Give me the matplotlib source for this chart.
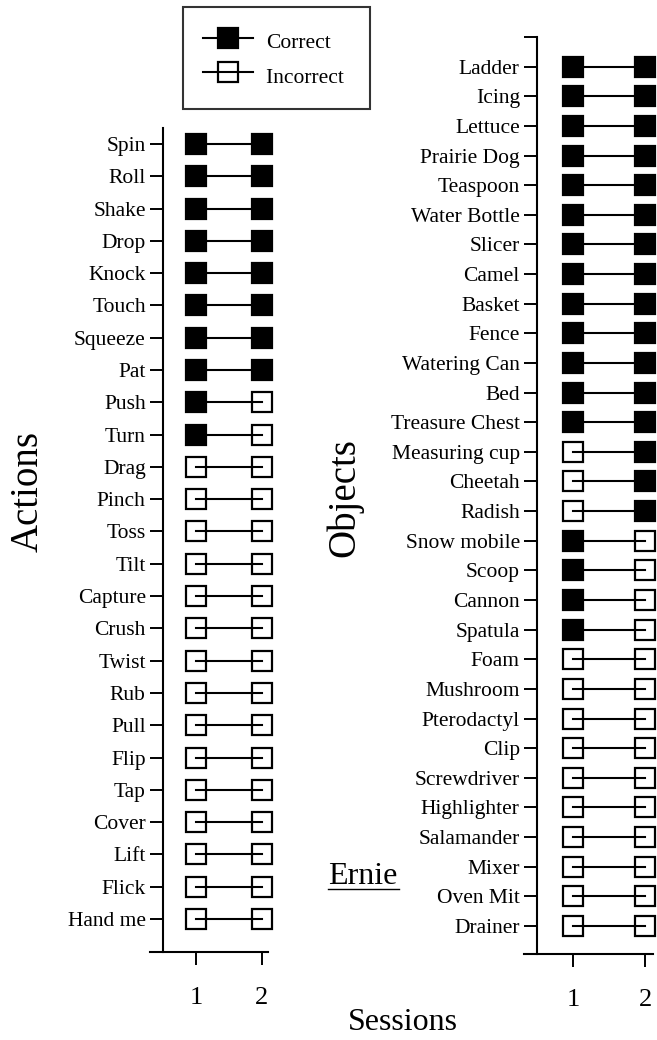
import numpy as np
import matplotlib
matplotlib.use("Agg")
import matplotlib.pyplot as plt
from matplotlib.lines import Line2D

plt.rcParams['font.family'] = ['Liberation Serif', 'DejaVu Serif']

# data: 1 = correct, 0 = incorrect (session 1, session 2)
actions = ["Spin", "Roll", "Shake", "Drop", "Knock", "Touch", "Squeeze", "Pat",
           "Push", "Turn", "Drag", "Pinch", "Toss", "Tilt", "Capture", "Crush",
           "Twist", "Rub", "Pull", "Flip", "Tap", "Cover", "Lift", "Flick", "Hand me"]
actions_s1 = [1]*10 + [0]*15
actions_s2 = [1]*8 + [0]*17

objects = ["Ladder", "Icing", "Lettuce", "Prairie Dog", "Teaspoon", "Water Bottle",
           "Slicer", "Camel", "Basket", "Fence", "Watering Can", "Bed",
           "Treasure Chest", "Measuring cup", "Cheetah", "Radish", "Snow mobile",
           "Scoop", "Cannon", "Spatula", "Foam", "Mushroom", "Pterodactyl", "Clip",
           "Screwdriver", "Highlighter", "Salamander", "Mixer", "Oven Mit", "Drainer"]
objects_s1 = [1]*13 + [0]*3 + [1]*4 + [0]*10
objects_s2 = [1]*13 + [1]*3 + [0]*4 + [0]*10

sessions = [1, 2]

W, H = 657, 1040
fig = plt.figure(figsize=(W/100, H/100), dpi=100)

ms = 14.5
mew = 1.6
lw = 1.5
fs = 15.5


def draw_panel(ax, names, s1, s2, top_tick=None):
    n = len(names)
    ys = list(np.arange(n)[::-1])
    for y, a, b in zip(ys, s1, s2):
        ax.plot(sessions, [y, y], color='black', lw=lw, zorder=2, clip_on=False)
        for x, v in zip(sessions, [a, b]):
            ax.plot([x], [y], marker='s', ms=ms, mew=mew, mec='black',
                    mfc='black' if v else 'none', ls='none', zorder=3,
                    clip_on=False)
    labels = list(names)
    if top_tick is not None:
        ys.append(top_tick)
        labels.append("")
    ax.set_yticks(ys)
    ax.set_yticklabels(labels)
    ax.set_xticks(sessions)
    ax.set_xticklabels([str(s) for s in sessions])
    for s in ['top', 'right']:
        ax.spines[s].set_visible(False)
    for s in ['left', 'bottom']:
        ax.spines[s].set_linewidth(1.5)
    ax.spines['left'].set_position(('data', 0.5))
    ax.tick_params(axis='y', length=9.4, width=1.4, pad=3, labelsize=fs)
    ax.tick_params(axis='x', length=9.4, width=1.4, pad=16, labelsize=19)
    ax.patch.set_visible(False)


# left panel: actions
ax1 = fig.add_axes([150/W, 1 - 952/H, 118/W, 824/H])
draw_panel(ax1, actions, actions_s1, actions_s2)
ax1.set_xlim(0.303, 2.091)
ax1.set_ylim(-1.022, 24.495)

# right panel: objects
ax2 = fig.add_axes([524/W, 1 - 954/H, 129/W, 917/H])
draw_panel(ax2, objects, objects_s1, objects_s2, top_tick=30)
ax2.set_xlim(0.319, 2.111)
ax2.set_ylim(-0.945, 30.0)

fig.text(28/W, 1 - 491/H, "Actions", rotation=90, fontsize=28,
         ha='center', va='center')
fig.text(345/W, 1 - 498/H, "Objects", rotation=90, fontsize=28,
         ha='center', va='center')
fig.text(403/W, 1 - 1022/H, "Sessions", fontsize=23, ha='center', va='center')
fig.text(363/W, 1 - 876/H, "Ernie", fontsize=23, ha='center', va='center')
fig.add_artist(Line2D([328/W, 399/W], [1 - 889/H, 1 - 889/H], color='black', lw=1))

handles = [
    Line2D([], [], color='black', lw=lw, marker='s', ms=ms, mew=mew, mfc='black', mec='black'),
    Line2D([], [], color='black', lw=lw, marker='s', ms=ms, mew=mew, mfc='none', mec='black'),
]
leg = fig.legend(handles, ["Correct", "Incorrect "], loc='upper left',
                 bbox_to_anchor=(183/W, 1 - 7/H), fontsize=fs, frameon=True,
                 fancybox=False, edgecolor='black', handlelength=2.3,
                 handleheight=1.5, handletextpad=0.6, borderpad=0.95,
                 labelspacing=0.4, borderaxespad=0)
leg.get_frame().set_linewidth(1.5)

fig.savefig("out.png", dpi=100)
